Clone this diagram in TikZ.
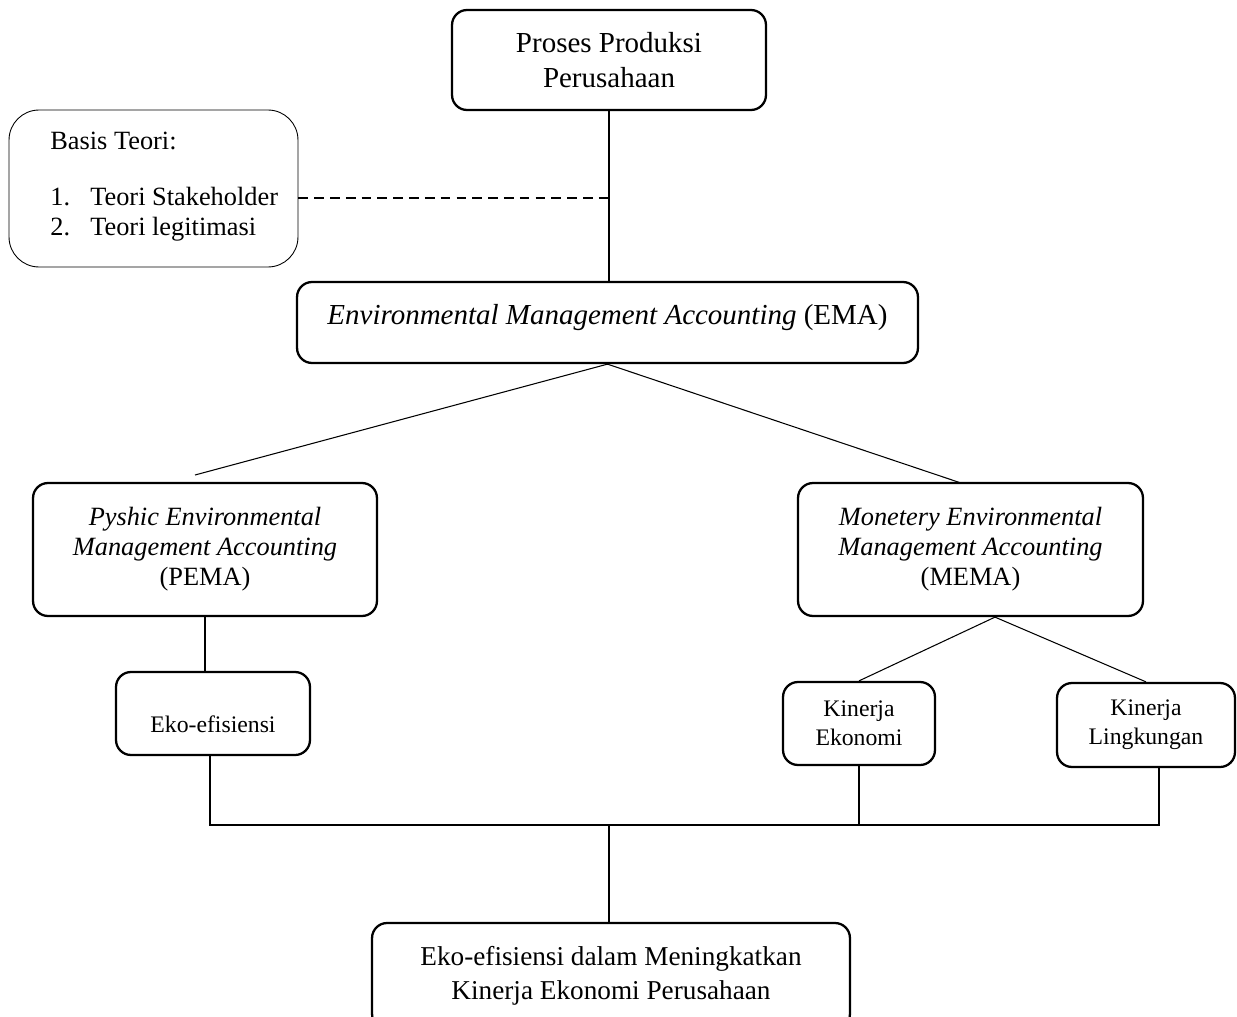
\documentclass[tikz,border=0pt]{standalone}
\usepackage{fontspec}
\setmainfont{Liberation Serif}

\begin{document}
\begin{tikzpicture}[x=0.02cm,y=-0.02cm,
    box/.style={draw,line width=1.3pt,rounded corners=0.3cm,align=center,inner sep=0pt},
    bigtext/.style={font=\fontsize{16.5}{19.8}\selectfont},
    midtext/.style={font=\fontsize{15}{17}\selectfont},
    smalltext/.style={font=\fontsize{13.5}{16.5}\selectfont},
    link/.style={line width=0.6pt}]
    \path[use as bounding box,clip] (0,0) rectangle (1237,1017);

    % top row
    \node [box,bigtext,minimum width=6.28cm,minimum height=2cm](proses) at (609,60)
        {Proses Produksi\\Perusahaan};
    \node [draw,line width=0.5pt,rounded corners=0.6cm,minimum width=5.78cm,minimum height=3.14cm](basis) at (153.5,188.5){};
    \node [midtext,anchor=west,align=left,inner sep=0pt](teori) at (50,186.5)
        {Basis Teori:\\[15.3pt]\makebox[0.8cm][l]{1.}Teori Stakeholder\\\makebox[0.8cm][l]{2.}Teori legitimasi};
    \node [box,bigtext,minimum width=12.42cm,minimum height=1.62cm,text depth=9pt](ema) at (607.5,322.5)
        {\textit{Environmental Management Accounting} (EMA)};

    % second row
    \node [box,midtext,minimum width=6.88cm,minimum height=2.66cm](pema) at (205,549.5)
        {\textit{Pyshic Environmental}\\\textit{Management Accounting}\\(PEMA)};
    \node [box,midtext,minimum width=6.9cm,minimum height=2.66cm](mema) at (970.5,549.5)
        {\textit{Monetery Environmental}\\\textit{Management Accounting}\\(MEMA)};

    % third row
    \node [box,smalltext,minimum width=3.88cm,minimum height=1.66cm,text height=2.2em](eko) at (213,713.5)
        {Eko-efisiensi};
    \node [box,smalltext,minimum width=3.04cm,minimum height=1.66cm](ekon) at (859,723.5)
        {Kinerja\\Ekonomi};
    \node [box,smalltext,minimum width=3.56cm,minimum height=1.68cm](lingk) at (1146,725)
        {Kinerja\\Lingkungan};

    % result
    \node [box,midtext,font=\fontsize{15.5}{19.3}\selectfont,minimum width=9.56cm,minimum height=2.12cm](hasil) at (611,976)
        {Eko-efisiensi dalam Meningkatkan\\Kinerja Ekonomi Perusahaan};

    \coordinate (dashend) at (proses.south |- 0,198);
    \coordinate (pemaend) at (195,475);
    \coordinate (memaend) at (961,483);
    \coordinate (mfork) at (mema.south -| 995,0);
    \coordinate (busL) at (210,825);
    \coordinate (busM) at (609,825);
    \coordinate (busR) at (1159,825);

    \draw[link] (proses.south) -- (proses.south |- ema.north);
    \draw[link,dash pattern=on 5.5pt off 3.5pt] (basis.east |- dashend) -- (dashend);
    \draw[link] (pemaend) -- (ema.south) -- (memaend);
    \draw[link] (pema.south) -- (pema.south |- eko.north);
    \draw[link] (ekon.north) -- (mfork) -- (lingk.north);

    \draw[link] (eko.south -| busL) -- (busL) -- (busR) -- (lingk.south -| busR);
    \draw[link] (ekon.south) -- (ekon.south |- busR);
    \draw[link] (busM) -- (busM |- hasil.north);
\end{tikzpicture}
\end{document}
